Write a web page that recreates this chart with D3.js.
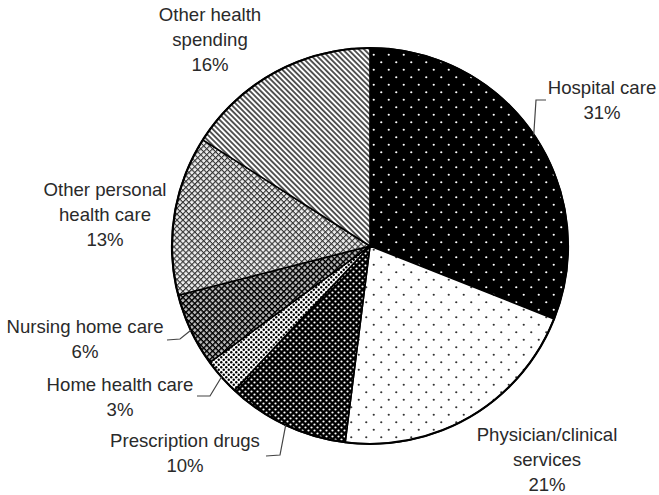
<!DOCTYPE html>
<html lang="en">
<head>
  <meta charset="UTF-8">
  <title>Health spending pie</title>
  <style>
    body { margin: 0; background: #fff; }
    svg { display: block; }
    text { font-family: "Liberation Sans", Arial, sans-serif; font-size: 18.6px; fill: #2a2a2a; }
  </style>
</head>
<body>
  <svg width="659" height="495"></svg>
  <script src="https://d3js.org/d3.v7.min.js"></script>
  <script>
    // slices, clockwise from 12 o'clock
    var categories = ['Hospital care', 'Physician/clinical services', 'Prescription drugs',
      'Home health care', 'Nursing home care', 'Other personal health care', 'Other health spending'];
    var values = [31, 21, 10, 3, 6, 13, 16];
    var labelLines = [
      ['Hospital care'],
      ['Physician/clinical', 'services'],
      ['Prescription drugs'],
      ['Home health care'],
      ['Nursing home care'],
      ['Other personal', 'health care'],
      ['Other health', 'spending']
    ];

    var width = 659, height = 495;
    var cx = 370, cy = 246, radius = 198;
    var lineH = 25;

    // label placement (first baseline) and leader elbows, null = no leader
    var layout = [
      { x: 602, y: 94, leader: [[536, 100], [546, 100]] },
      { x: 547, y: 441, leader: null },
      { x: 185, y: 447, leader: [[280, 455], [266, 456]] },
      { x: 120, y: 391, leader: [[210, 396], [197, 396]] },
      { x: 85, y: 333, leader: [[180, 339], [167, 340]] },
      { x: 105, y: 196, leader: null },
      { x: 210, y: 21, leader: null }
    ];

    var svg = d3.select('svg');
    var defs = svg.append('defs');

    // staggered dot lattice
    function dots(id, bg, fg, w, h, r) {
      var p = defs.append('pattern').attr('id', id)
        .attr('patternUnits', 'userSpaceOnUse')
        .attr('width', w).attr('height', h);
      p.append('rect').attr('width', w).attr('height', h).attr('fill', bg);
      [[w / 4, h / 4], [w * 3 / 4, h * 3 / 4]].forEach(function (c) {
        p.append('circle').attr('cx', c[0]).attr('cy', c[1]).attr('r', r).attr('fill', fg);
      });
    }
    dots('p0', '#000', '#fff', 15, 15, 1.1);
    dots('p1', '#fff', '#333', 15, 15, 1.1);
    dots('p2', '#000', '#fff', 6, 6, 1.1);
    dots('p3', '#fff', '#000', 5, 5, 1.2);

    // crosshatch
    function hatch(id, bg, fg, s, sw) {
      var p = defs.append('pattern').attr('id', id)
        .attr('patternUnits', 'userSpaceOnUse')
        .attr('width', s).attr('height', s)
        .attr('patternTransform', 'rotate(45)');
      p.append('rect').attr('width', s).attr('height', s).attr('fill', bg);
      p.append('line').attr('x1', 0).attr('y1', 0).attr('x2', s).attr('y2', 0)
        .attr('stroke', fg).attr('stroke-width', sw);
      p.append('line').attr('x1', 0).attr('y1', 0).attr('x2', 0).attr('y2', s)
        .attr('stroke', fg).attr('stroke-width', sw);
    }
    hatch('p4', '#bbb', '#000', 4.2, 2.8);
    hatch('p5', '#eee', '#333', 4.2, 2.2);

    // diagonal stripes "\"
    var st = defs.append('pattern').attr('id', 'p6')
      .attr('patternUnits', 'userSpaceOnUse')
      .attr('width', 3.8).attr('height', 3.8)
      .attr('patternTransform', 'rotate(45)');
    st.append('rect').attr('width', 3.8).attr('height', 3.8).attr('fill', '#fff');
    st.append('line').attr('x1', 0).attr('y1', 1.9).attr('x2', 3.8).attr('y2', 1.9)
      .attr('stroke', '#111').attr('stroke-width', 1.4);

    var pie = d3.pie().sort(null).value(function (d) { return d; });
    var arcs = pie(values);
    var arc = d3.arc().innerRadius(0).outerRadius(radius);

    var g = svg.append('g').attr('transform', 'translate(' + [cx, cy] + ')');
    g.selectAll('path')
      .data(arcs)
      .enter().append('path')
      .attr('d', arc)
      .attr('fill', function (d, i) { return 'url(#p' + i + ')'; })
      .attr('stroke', '#000')
      .attr('stroke-width', 1.6)
      .attr('stroke-linejoin', 'round');

    g.append('circle').attr('r', radius)
      .attr('fill', 'none').attr('stroke', '#000').attr('stroke-width', 2.2);

    // leaders
    arcs.forEach(function (a, i) {
      var lay = layout[i];
      if (!lay.leader) return;
      var mid = (a.startAngle + a.endAngle) / 2;
      var start = [cx + radius * Math.sin(mid), cy - radius * Math.cos(mid)];
      svg.append('path')
        .attr('d', d3.line()([start].concat(lay.leader)))
        .attr('fill', 'none')
        .attr('stroke', '#444')
        .attr('stroke-width', 1.2);
    });

    // labels
    categories.forEach(function (c, i) {
      var lay = layout[i];
      var lines = labelLines[i].concat([values[i] + '%']);
      var t = svg.append('text')
        .attr('text-anchor', 'middle')
        .attr('x', lay.x).attr('y', lay.y);
      lines.forEach(function (l, k) {
        t.append('tspan').attr('x', lay.x).attr('dy', k === 0 ? 0 : lineH).text(l);
      });
    });
  </script>
</body>
</html>
